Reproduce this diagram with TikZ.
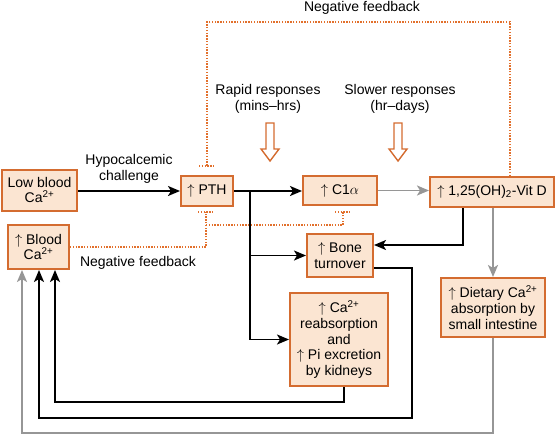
\documentclass[tikz,border=0pt]{standalone}
\usepackage{fontspec}
\setmainfont{Liberation Sans}
\usetikzlibrary{arrows.meta}
\definecolor{boxfill}{RGB}{251,229,210}
\definecolor{boxline}{RGB}{212,108,48}
\definecolor{fbline}{RGB}{226,112,44}
\definecolor{grayline}{RGB}{150,150,150}
\newcommand{\up}{$\uparrow$}
\begin{document}
\begin{tikzpicture}[x=1pt,y=-1pt,
  font=\fontsize{14}{15.7}\selectfont,
  mybox/.style={draw=boxline, fill=boxfill, line width=2pt, inner sep=0pt, align=center},
  lbl/.style={align=center, inner sep=0pt},
  blk/.style={draw=black, line width=1.8pt, -{Stealth[length=12pt,width=10pt,inset=3pt]}},
  gry/.style={draw=grayline, line width=1.9pt, -{Stealth[length=12pt,width=10pt,inset=3pt]}},
  fb/.style={draw=fbline, line width=1.4pt, dash pattern=on 1.4pt off 1.4pt},
  hollow/.pic={\draw[boxline, fill=white, line width=1.4pt, line join=miter]
     (-4,0) -- (4,0) -- (4,26) -- (9,26) -- (0,38) -- (-9,26) -- (-4,26) -- cycle;}
]
\useasboundingbox (0,0) rectangle (556,434);

% boxes
\node[mybox, minimum width=75pt, minimum height=41pt] (low) at (39.5,190) {Low blood\\Ca\textsuperscript{2+}};
\node[mybox, minimum width=61pt, minimum height=44pt] (blood) at (38.5,247) {\up\ Blood\\Ca\textsuperscript{2+}};
\node[mybox, minimum width=52pt, minimum height=30pt] (pth) at (207,191) {\up\ PTH};
\node[mybox, minimum width=74pt, minimum height=29pt] (c1a) at (340,190.5) {\up\ C1$\alpha$};
\node[mybox, minimum width=124pt, minimum height=30pt] (vitd) at (492,192) {\up\ 1,25(OH)\textsubscript{2}-Vit D};
\node[mybox, minimum width=66pt, minimum height=43pt] (bone) at (340,255.5) {\up\ Bone\\turnover};
\node[mybox, minimum width=98pt, minimum height=93pt] (kid) at (339,339.5) {\up\ Ca\textsuperscript{2+}\\reabsorption\\and\\\up\ Pi excretion\\by kidneys};
\node[mybox, minimum width=104pt, minimum height=59pt] (diet) at (493,307.5) {\up\ Dietary Ca\textsuperscript{2+}\\absorption by\\small intestine};

% labels
\node[lbl] (hypo) at (129,169) {Hypocalcemic\\challenge};
\node[lbl] (nfb1) at (138,263) {Negative feedback};
\node[lbl] (nfb2) at (362,8) {Negative feedback};
\node[lbl] (rapid) at (268,99) {Rapid responses\\(mins--hrs)};
\node[lbl] (slow) at (400,99) {Slower responses\\(hr--days)};

% hollow arrows
\pic at (270,123) {hollow};
\pic at (398,123) {hollow};

% main axis
\draw[blk] (low.east |- pth.west) -- (pth.west);
\draw[blk] (pth.east) -- (pth.east -| c1a.west);
\draw[gry] (c1a.east) -- (c1a.east -| vitd.west);

% branch from PTH
\coordinate (br) at (250,191);
\draw[blk] (br) |- (bone.west);
\draw[blk] (br) |- (kid.west);

% Vit D to bone and intestine
\coordinate (vb) at (463,245);
\draw[blk] (vitd.south -| vb) |- (bone.east |- vb);
\draw[gry] (vitd.south -| diet.north) -- (diet.north);

% returns to blood
\coordinate (g1) at (22,433);
\draw[gry] (diet.south) |- (g1) -- (blood.south -| g1);
\coordinate (k1) at (412,418);
\coordinate (k2) at (39,418);
\draw[blk] ([yshift=-12.5pt]bone.east) -| (k1) -- (k2) -- (blood.south -| k2);
\coordinate (m0) at (344,402);
\coordinate (m1) at (55,402);
\draw[blk] (kid.south -| m0) -- (m0) -- (m1) -- (blood.south -| m1);

% negative feedback (top)
\coordinate (t1) at (510,22);
\coordinate (t2) at (207,22);
\coordinate (t3) at (207,166);
\draw[fb] (vitd.north -| t1) -- (t1) -- (t2) -- (t3);
\draw[fb] ([xshift=-8pt]t3) -- ([xshift=8pt]t3);

% negative feedback (bottom)
\coordinate (d1) at (206,247);
\coordinate (d2) at (206,212);
\coordinate (d3) at (206,225);
\coordinate (d4) at (343,225);
\coordinate (d5) at (343,212);
\draw[fb] (blood.east) -- (d1) -- (d2);
\draw[fb] ([xshift=-8pt]d2) -- ([xshift=8pt]d2);
\draw[fb] (d3) -- (d4) -- (d5);
\draw[fb] ([xshift=-8pt]d5) -- ([xshift=8pt]d5);
\end{tikzpicture}
\end{document}
